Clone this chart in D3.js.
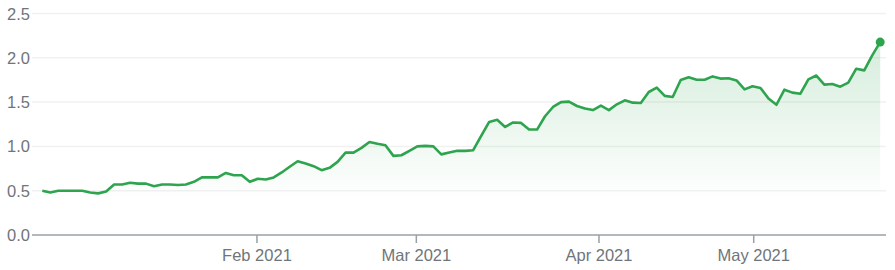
<!DOCTYPE html>
<html>
<head>
<meta charset="utf-8">
<script src="https://cdn.jsdelivr.net/npm/d3@7"></script>
<style>
  html, body { margin: 0; padding: 0; background: #fff; }
  svg { display: block; }
  text { font-family: "Liberation Sans", Arial, sans-serif; }
</style>
</head>
<body>
<svg id="chart" width="895" height="270"></svg>
<script>
// Series values (one per trading session, evenly spaced)
const values = [
  0.50, 0.48, 0.50, 0.50, 0.50, 0.50, 0.48, 0.47, 0.49, 0.57,
  0.57, 0.59, 0.58, 0.58, 0.55, 0.57, 0.57, 0.565, 0.57, 0.60,
  0.65, 0.65, 0.65, 0.70, 0.675, 0.675, 0.60, 0.634, 0.627, 0.65,
  0.706, 0.77, 0.833, 0.807, 0.777, 0.732, 0.758, 0.825, 0.93, 0.93,
  0.983, 1.05, 1.03, 1.013, 0.893, 0.90, 0.95, 1.00, 1.006, 1.00,
  0.91, 0.93, 0.95, 0.95, 0.957, 1.12, 1.276, 1.30, 1.22, 1.27,
  1.265, 1.19, 1.19, 1.34, 1.445, 1.50, 1.505, 1.456, 1.427, 1.41,
  1.46, 1.41, 1.475, 1.52, 1.494, 1.49, 1.614, 1.663, 1.57, 1.557,
  1.75, 1.78, 1.753, 1.753, 1.79, 1.765, 1.77, 1.745, 1.644, 1.678,
  1.66, 1.54, 1.47, 1.64, 1.607, 1.595, 1.757, 1.80, 1.697, 1.704,
  1.674, 1.72, 1.877, 1.858, 2.027, 2.177
];
// X tick labels and their positions (in session index units)
const xTickLabels = ["Feb 2021", "Mar 2021", "Apr 2021", "May 2021"];
const xTickIndex = [26.9, 46.87, 69.76, 89.15];
// Y tick values
const yTicks = [0, 0.5, 1.0, 1.5, 2.0, 2.5];

const svg = d3.select("#chart");
const plotLeft = 32, plotRight = 886;
const x = d3.scaleLinear().domain([0, values.length - 1]).range([42.3, 880.2]);
const y = d3.scaleLinear().domain([0, 2.5]).range([235, 13.5]);

const green = "#2ea44f";
const grey = "#70757a";
const fontSize = 16.5;

// gridlines
svg.append("g").selectAll("line").data(yTicks.filter(d => d > 0)).join("line")
  .attr("x1", plotLeft).attr("x2", plotRight)
  .attr("y1", d => y(d)).attr("y2", d => y(d))
  .attr("stroke", "#f1f1f1").attr("stroke-width", 1.5);

// y labels
svg.append("g").selectAll("text").data(yTicks).join("text")
  .attr("x", 30).attr("y", d => y(d) + 6)
  .attr("text-anchor", "end")
  .attr("font-size", fontSize)
  .attr("fill", grey)
  .text(d => d3.format(".1f")(d));

// gradient
const defs = svg.append("defs");
const grad = defs.append("linearGradient").attr("id", "fillGrad")
  .attr("gradientUnits", "userSpaceOnUse")
  .attr("x1", 0).attr("x2", 0).attr("y1", y(2.2)).attr("y2", y(0.4));
grad.append("stop").attr("offset", "0%").attr("stop-color", green).attr("stop-opacity", 0.2);
grad.append("stop").attr("offset", "100%").attr("stop-color", green).attr("stop-opacity", 0);

const area = d3.area().x((d, i) => x(i)).y0(y(0)).y1(d => y(d));
svg.append("path").datum(values).attr("d", area).attr("fill", "url(#fillGrad)");

// x axis line
svg.append("line").attr("x1", plotLeft).attr("x2", plotRight)
  .attr("y1", y(0)).attr("y2", y(0))
  .attr("stroke", "#9aa0a6").attr("stroke-width", 1.5);

// x ticks
const xt = svg.append("g").selectAll("g").data(xTickIndex).join("g")
  .attr("transform", d => `translate(${x(d)},0)`);
xt.append("line").attr("y1", y(0)).attr("y2", y(0) + 8)
  .attr("stroke", "#9aa0a6").attr("stroke-width", 1.5);
xt.append("text").attr("y", 260.5).attr("text-anchor", "middle")
  .attr("font-size", fontSize).attr("fill", grey)
  .text((d, i) => xTickLabels[i]);

// line
const line = d3.line().x((d, i) => x(i)).y(d => y(d));
svg.append("path").datum(values).attr("d", line)
  .attr("fill", "none").attr("stroke", green).attr("stroke-width", 2.6)
  .attr("stroke-linejoin", "round");

// end dot
svg.append("circle").attr("cx", x(values.length - 1)).attr("cy", y(values[values.length - 1]))
  .attr("r", 4.5).attr("fill", green);
</script>
</body>
</html>
